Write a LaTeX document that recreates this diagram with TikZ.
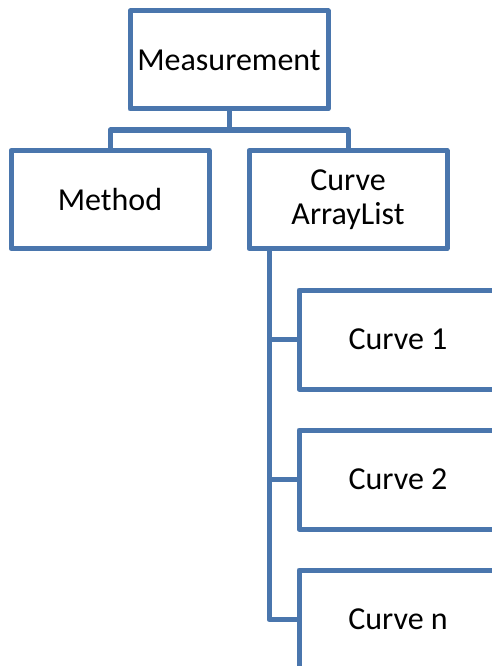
\documentclass[tikz,border=0pt]{standalone}
\usepackage{fontspec}
\setmainfont{Carlito}
\usepackage{tikz}
\usetikzlibrary{positioning}
\definecolor{smblue}{RGB}{74,118,173}
\tikzstyle{box} = [draw=smblue, line width=5pt, line join=round, fill=white, minimum width=198pt, minimum height=98pt, align=center, inner sep=0pt, font=\fontsize{32}{34}\selectfont]
\tikzstyle{link} = [draw=smblue, line width=5pt, line join=round]

\begin{document}
\begin{tikzpicture}[x=1pt, y=1pt]
\useasboundingbox (0,0) rectangle (492,-666);
\clip (0,0) rectangle (492,-666);
% Top node
\node[box] (meas) at (229,-60) {Measurement};

% Level 1
\node[box] (method) at (110,-199.5) {Method};
\node[box] (list) at (348,-199.5) {Curve\\ArrayList};

% Level 2 - curves
\node[box, minimum height=99pt] (curve1) at (398,-339.5) {Curve 1};
\node[box, minimum height=99pt] (curve2) at (398,-479.5) {Curve 2};
\node[box, minimum height=99pt] (curven) at (398,-619.5) {Curve n};

% Connections
\coordinate (bus) at (229,-130);
\coordinate (spine) at (269,-248);
\draw[link] (meas.south) -- (bus) -| (method.north);
\draw[link] (bus) -| (list.north);

\draw[link] (spine) |- (curve1.west);
\draw[link] (spine) |- (curve2.west);
\draw[link] (spine) |- (curven.west);
\end{tikzpicture}
\end{document}
